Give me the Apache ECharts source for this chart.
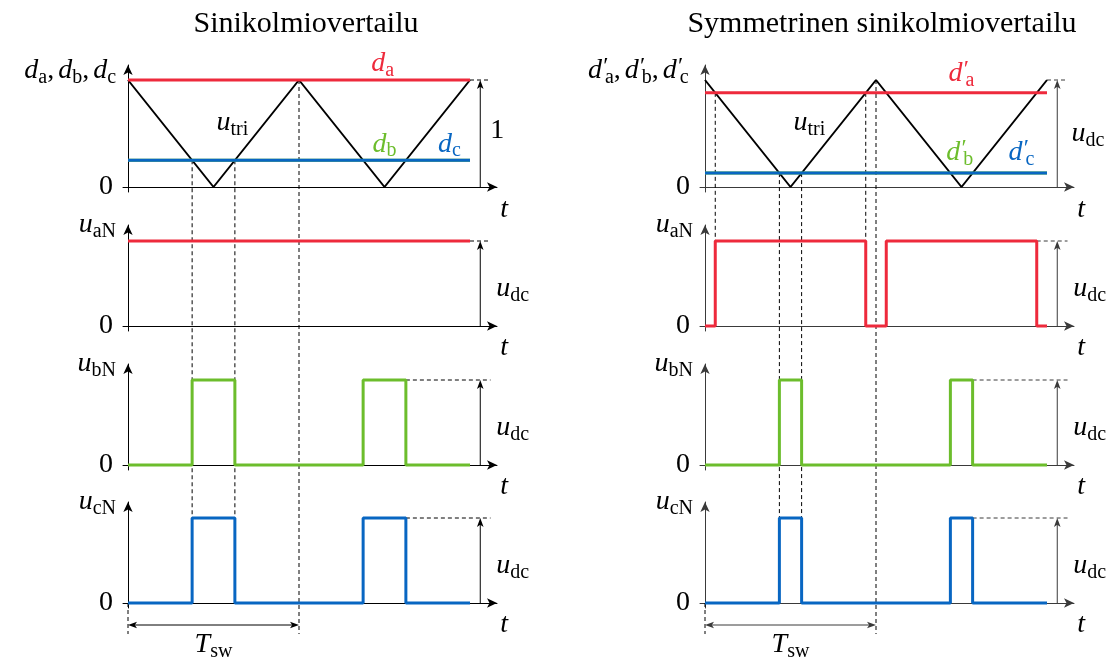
<!DOCTYPE html>
<html>
<head>
<meta charset="utf-8">
<script src="https://cdn.jsdelivr.net/npm/echarts@6/dist/echarts.min.js"></script>
<style>
  html, body { margin: 0; padding: 0; background: #fff; }
  #c { width: 1115px; height: 659px; }
</style>
</head>
<body>
<div id="c"></div>
<script>
// Time is measured in switching periods T_sw; two periods are drawn.
// Carrier (triangle) wave, normalised to 0..1
const triangle = [[0, 1], [0.5, 0], [1, 1], [1.5, 0], [2, 1]];

// Sine-triangle comparison: duty-cycle references
const dutyA = [[0, 1], [2, 1]];
const dutyB = [[0, 0.25], [2, 0.25]];
const dutyC = [[0, 0.25], [2, 0.25]];

// Symmetric comparison: references shifted towards the middle
const dutyAsym = [[0, 0.88], [2, 0.88]];
const dutyBsym = [[0, 0.13], [2, 0.13]];
const dutyCsym = [[0, 0.13], [2, 0.13]];

// Phase voltages (units of u_dc), given as (time, level) corners
const uaN = [[0, 1], [2, 1]];
const ubN = [[0, 0], [0.375, 0], [0.375, 1], [0.625, 1], [0.625, 0], [1.375, 0], [1.375, 1], [1.625, 1], [1.625, 0], [2, 0]];
const ucN = [[0, 0], [0.375, 0], [0.375, 1], [0.625, 1], [0.625, 0], [1.375, 0], [1.375, 1], [1.625, 1], [1.625, 0], [2, 0]];

const uaNsym = [[0, 0], [0.06, 0], [0.06, 1], [0.94, 1], [0.94, 0], [1.06, 0], [1.06, 1], [1.94, 1], [1.94, 0], [2, 0]];
const ubNsym = [[0, 0], [0.435, 0], [0.435, 1], [0.565, 1], [0.565, 0], [1.435, 0], [1.435, 1], [1.565, 1], [1.565, 0], [2, 0]];
const ucNsym = [[0, 0], [0.435, 0], [0.435, 1], [0.565, 1], [0.565, 0], [1.435, 0], [1.435, 1], [1.565, 1], [1.565, 0], [2, 0]];

// Switching instants projected down through the panels
const guidesLeft = [
  { t: 0.375, from: [0, 0.25], to: [3, 1] },
  { t: 0.625, from: [0, 0.25], to: [3, 1] },
  { t: 1, from: [0, 1], to: [3, -0.365] },
  { t: 0, from: [3, 0], to: [3, -0.365] }
];
const guidesRight = [
  { t: 0.06, from: [0, 0.88], to: [1, 1] },
  { t: 0.94, from: [0, 0.88], to: [1, 1] },
  { t: 0.435, from: [0, 0.13], to: [3, 1] },
  { t: 0.565, from: [0, 0.13], to: [3, 1] },
  { t: 1, from: [0, 1], to: [3, -0.365] },
  { t: 0, from: [3, 0], to: [3, -0.365] }
];
// where the dashed "full level" marker starts in each panel
const levelStartLeft = [2, 2, 1.625, 1.625];
const levelStartRight = [2, 1.94, 1.565, 1.565];

const RED = '#ee2a3c', GREEN = '#6cbd2c', BLUE = '#0866c2';
const FONT = "'Liberation Serif', 'DejaVu Serif', serif";
const INK_L = '#000', INK_R = '#3a3a3a';
const MAIN = 28, SUB = 20;

const chart = echarts.init(document.getElementById('c'));

// panel geometry
const cols = [{ left: 123, ink: INK_L }, { left: 700, ink: INK_R }];
const rows = [
  { top: 65, height: 127, unit: 107 },
  { top: 225, height: 106, unit: 85 },
  { top: 364, height: 106, unit: 85 },
  { top: 502, height: 106, unit: 85 }
];
const X_UNIT = 171;

const grids = [], xAxes = [], yAxes = [];
cols.forEach((c) => {
  rows.forEach((r) => {
    const gi = grids.length;
    grids.push({ left: c.left, top: r.top, width: 374, height: r.height, outerBoundsMode: 'none' });
    xAxes.push({
      type: 'value', gridIndex: gi, min: -5 / X_UNIT, max: 369 / X_UNIT,
      axisLine: { onZero: true, symbol: ['none', 'arrow'], symbolSize: [7, 10], lineStyle: { color: c.ink, width: 1 } },
      axisTick: { show: false }, axisLabel: { show: false }, splitLine: { show: false }
    });
    yAxes.push({
      type: 'value', gridIndex: gi, min: -5 / r.unit, max: (r.height - 5) / r.unit,
      axisLine: { onZero: true, symbol: ['none', 'arrow'], symbolSize: [7, 10], lineStyle: { color: c.ink, width: 1 } },
      axisTick: { show: false }, splitLine: { show: false },
      axisLabel: {
        customValues: [0], formatter: () => '0', margin: 10,
        fontFamily: FONT, fontSize: MAIN, color: '#000'
      }
    });
  });
});

function line(gi, data, color, width) {
  return {
    type: 'line', xAxisIndex: gi, yAxisIndex: gi, data: data,
    showSymbol: false, symbol: 'none', silent: true, animation: false,
    lineStyle: { color: color, width: width }, clip: false
  };
}

const series = [
  line(0, triangle, '#000', 2), line(0, dutyA, RED, 3), line(0, dutyB, GREEN, 3), line(0, dutyC, BLUE, 3),
  line(1, uaN, RED, 3), line(2, ubN, GREEN, 3), line(3, ucN, BLUE, 3),
  line(4, triangle, '#000', 2), line(4, dutyAsym, RED, 3), line(4, dutyBsym, GREEN, 3), line(4, dutyCsym, BLUE, 3),
  line(5, uaNsym, RED, 3), line(6, ubNsym, GREEN, 3), line(7, ucNsym, BLUE, 3)
];

chart.setOption({
  animation: false,
  backgroundColor: '#fff',
  title: [
    { text: 'Sinikolmiovertailu', left: 301, top: 4, textAlign: 'center',
      textStyle: { fontFamily: FONT, fontWeight: 'normal', fontSize: 30, color: '#000' } },
    { text: 'Symmetrinen sinikolmiovertailu', left: 877, top: 4, textAlign: 'center',
      textStyle: { fontFamily: FONT, fontWeight: 'normal', fontSize: 30, color: '#000' } }
  ],
  grid: grids, xAxis: xAxes, yAxis: yAxes, series: series
});

// ---- annotations placed through the axes' own scales ----
const px = (gi, t, v) => chart.convertToPixel({ gridIndex: gi }, [t, v]);

function seg(a, b, color, dashed) {
  return {
    type: 'line', silent: true, z: 1,
    shape: { x1: a[0], y1: a[1], x2: b[0], y2: b[1] },
    style: { stroke: color, lineWidth: 1, lineDash: dashed ? [4, 3] : null }
  };
}
function head(tip, from, color) {
  const dx = tip[0] - from[0], dy = tip[1] - from[1];
  const L = Math.hypot(dx, dy) || 1;
  const ux = dx / L, uy = dy / L, nx = -uy, ny = ux;
  const len = 9, w = 3.3, notch = 2.2;
  return {
    type: 'polygon', silent: true, z: 2,
    shape: { points: [
      [tip[0], tip[1]],
      [tip[0] - len * ux + w * nx, tip[1] - len * uy + w * ny],
      [tip[0] - (len - notch) * ux, tip[1] - (len - notch) * uy],
      [tip[0] - len * ux - w * nx, tip[1] - len * uy - w * ny]
    ] },
    style: { fill: color }
  };
}
function richStyles(color) {
  return {
    i: { fontFamily: FONT, fontStyle: 'italic', fontSize: MAIN, fill: color },
    r: { fontFamily: FONT, fontSize: MAIN, fill: color },
    c: { fontFamily: FONT, fontSize: MAIN, fill: color, padding: [0, 4, 0, 0] },
    s: { fontFamily: FONT, fontSize: SUB, fill: color, padding: [14, 0, 0, 0] },
    p: { fontFamily: FONT, fontSize: 24, fill: color, padding: [0, 0, 8, 0], width: 3 }
  };
}
function label(gi, t, v, text, color, align) {
  const p = px(gi, t, v);
  return {
    type: 'text', x: p[0], y: p[1], silent: true, z: 3,
    style: {
      text: text, rich: richStyles(color), fill: color,
      align: align || 'center', verticalAlign: 'middle',
      textAlign: align || 'center', textVerticalAlign: 'middle',
      fontFamily: FONT, fontSize: MAIN
    }
  };
}

const g = [];
function columnDecor(base, guides, levelStarts, ink) {
  guides.forEach((d) => {
    g.push(seg(px(base + d.from[0], d.t, d.from[1]), px(base + d.to[0], d.t, d.to[1]), '#000', true));
  });
  for (let r = 0; r < 4; r++) {
    const gi = base + r;
    // dashed full-level marker and the vertical magnitude arrow
    g.push(seg(px(gi, levelStarts[r], 1), px(gi, 2.12, 1), ink, true));
    const a = px(gi, 2.06, 0), b = px(gi, 2.06, 1);
    g.push(seg(a, [b[0], b[1] + 4], ink, false));
    g.push(head(b, a, ink));
  }
  // period arrow
  const p0 = px(base + 3, 0, -0.259), p1 = px(base + 3, 1, -0.259);
  g.push(seg([p0[0] + 4, p0[1]], [p1[0] - 4, p1[1]], ink, false));
  g.push(head(p0, p1, ink));
  g.push(head(p1, p0, ink));
  g.push(label(base + 3, 0.5, -0.49, '{i|T}{s|sw}', '#000'));
  // time labels
  g.push(label(base, 2.2, -0.21, '{i|t}', '#000'));
  for (let r = 1; r < 4; r++) g.push(label(base + r, 2.2, -0.26, '{i|t}', '#000'));
  // phase-voltage axis names
  g.push(label(base + 1, -0.07, 1.19, '{i|u}{s|aN}', '#000', 'right'));
  g.push(label(base + 2, -0.07, 1.19, '{i|u}{s|bN}', '#000', 'right'));
  g.push(label(base + 3, -0.07, 1.19, '{i|u}{s|cN}', '#000', 'right'));
  for (let r = 1; r < 4; r++) g.push(label(base + r, 2.25, 0.435, '{i|u}{s|dc}', '#000'));
  g.push(label(base, 0.61, 0.6, '{i|u}{s|tri}', '#000'));
}

columnDecor(0, guidesLeft, levelStartLeft, INK_L);
columnDecor(4, guidesRight, levelStartRight, INK_R);

// left reference panel labels
g.push(label(0, -0.07, 1.084, '{i|d}{s|a}{c|,}{i|d}{s|b}{c|,}{i|d}{s|c}', '#000', 'right'));
g.push(label(0, 1.49, 1.15, '{i|d}{s|a}', RED));
g.push(label(0, 1.5, 0.4, '{i|d}{s|b}', GREEN));
g.push(label(0, 1.88, 0.4, '{i|d}{s|c}', BLUE));
g.push(label(0, 2.16, 0.53, '{r|1}', '#000'));

// right reference panel labels (primed references)
const P = '{p|\u2009′}';
g.push(label(4, -0.39, 1.084, '{i|d}' + P + '{s|a}{c|,}{i|d}' + P + '{s|b}{c|,}{i|d}' + P + '{s|c}', '#000'));
g.push(label(4, 1.5, 1.056, '{i|d}' + P + '{s|a}', RED));
g.push(label(4, 1.49, 0.32, '{i|d}' + P + '{s|b}', GREEN));
g.push(label(4, 1.85, 0.32, '{i|d}' + P + '{s|c}', BLUE));
g.push(label(4, 2.24, 0.5, '{i|u}{s|dc}', '#000'));

chart.setOption({ graphic: { elements: g } });
</script>
</body>
</html>
